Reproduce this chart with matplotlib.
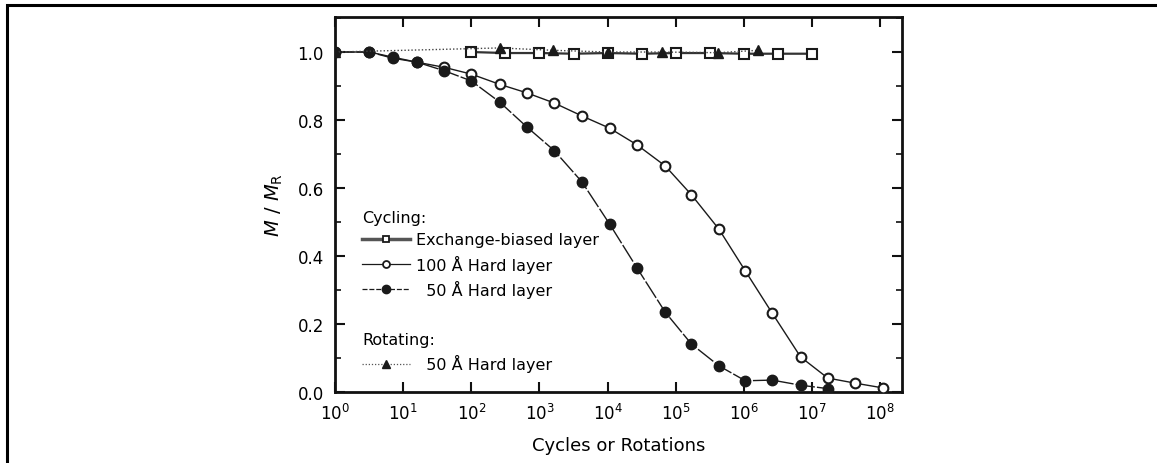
import numpy as np
import matplotlib
matplotlib.use("Agg")
import matplotlib.pyplot as plt
from matplotlib.lines import Line2D
from matplotlib.ticker import MultipleLocator, FormatStrFormatter, NullLocator

plt.rcParams['font.family'] = ['DejaVu Sans']
plt.rcParams['mathtext.fontset'] = 'dejavusans'

# ---- data ----
exch_x = [1e2, 3.16e2, 1e3, 3.16e3, 1e4, 3.16e4, 1e5, 3.16e5, 1e6, 3.16e6, 1e7]
exch_y = [1.0, 0.997, 0.997, 0.995, 0.997, 0.995, 0.997, 0.997, 0.995, 0.995, 0.995]

hard100_x = [1, 3.2, 7, 16, 40, 100, 260, 650, 1650, 4200, 1.07e4, 2.7e4, 7e4,
             1.7e5, 4.3e5, 1.05e6, 2.6e6, 6.8e6, 1.7e7, 4.3e7, 1.1e8]
hard100_y = [1.0, 1.0, 0.985, 0.97, 0.955, 0.935, 0.905, 0.88, 0.85, 0.812, 0.776,
             0.727, 0.665, 0.58, 0.479, 0.356, 0.232, 0.103, 0.041, 0.026, 0.012]

hard50_x = [1, 3.2, 7, 16, 40, 100, 260, 650, 1650, 4200, 1.07e4, 2.7e4, 7e4,
            1.7e5, 4.3e5, 1.05e6, 2.6e6, 6.8e6, 1.7e7]
hard50_y = [1.0, 1.0, 0.982, 0.97, 0.945, 0.915, 0.853, 0.78, 0.71, 0.618, 0.494,
            0.365, 0.235, 0.141, 0.077, 0.033, 0.035, 0.02, 0.01]

rot_x = [1, 260, 1600, 1e4, 6.2e4, 4.2e5, 1.6e6]
rot_y = [1.0, 1.012, 1.005, 1.0, 1.0, 0.998, 1.005]

xticks = [10.0**k for k in range(0, 9)]
yticks = [0.0, 0.2, 0.4, 0.6, 0.8, 1.0]

# ---- figure ----
W, H = 1157, 464
fig = plt.figure(figsize=(W / 100, H / 100), dpi=100)
ax = fig.add_axes([335 / W, 1 - 393 / H, (902 - 335) / W, (393 - 18) / H])

col = '#1a1a1a'
ax.plot(exch_x, exch_y, '-', color='#333333', lw=1.6, marker='s', ms=6.5,
        mfc='white', mec=col, mew=1.5, zorder=3)
ax.plot(hard100_x, hard100_y, '-', color=col, lw=1.0, marker='o', ms=7,
        mfc='white', mec=col, mew=1.5, zorder=4)
ax.plot(hard50_x, hard50_y, color=col, lw=1.0, ls=(0, (14, 1.5)), marker='o', ms=7.5,
        mfc=col, mec=col, zorder=5)
ax.plot(rot_x, rot_y, color='#444444', lw=1.0, ls=(0, (1, 1.5)), marker='^', ms=7,
        mfc=col, mec=col, zorder=6)

ax.set_xscale('log')
ax.set_xlim(1, 10 ** 8.32)
ax.set_ylim(0, 1.103)
ax.set_xticks(xticks)
ax.xaxis.set_minor_locator(NullLocator())
ax.set_yticks(yticks)
ax.yaxis.set_minor_locator(MultipleLocator(0.1))
ax.yaxis.set_major_formatter(FormatStrFormatter('%.1f'))

for s in ax.spines.values():
    s.set_linewidth(2.0)
    s.set_color('#111111')
ax.tick_params(which='both', direction='in', top=True, right=True, color='#111111')
ax.tick_params(which='major', length=7, width=1.5, labelsize=12, pad=8)
ax.tick_params(which='minor', length=4, width=1.2)

ax.set_xlabel('Cycles or Rotations', fontsize=13, labelpad=9)
ax.set_ylabel(r'$M\ /\ M_{\rm R}$', fontsize=14, labelpad=9)

# ---- legends ----
h1 = Line2D([], [], color='#555555', lw=2.5, marker='s', ms=5, mfc='white', mec=col, mew=1.3)
h2 = Line2D([], [], color=col, lw=0.9, marker='o', ms=5, mfc='white', mec=col, mew=1.3)
h3 = Line2D([], [], color=col, lw=0.9, ls=(0, (4, 1.5)), marker='o', ms=6, mfc=col, mec=col)
h4 = Line2D([], [], color='#555555', lw=0.9, ls=(0, (1, 1.5)), marker='^', ms=6, mfc=col, mec=col)

leg1 = ax.legend([h1, h2, h3],
                 ['Exchange-biased layer', '100 Å Hard layer', '  50 Å Hard layer'],
                 title='Cycling:', loc='upper left', bbox_to_anchor=(0.048, 0.485),
                 frameon=False, fontsize=11.5, title_fontsize=11.5, alignment='left',
                 handlelength=3.0, handletextpad=0.35, labelspacing=0.45,
                 borderaxespad=0, borderpad=0)
ax.add_artist(leg1)
leg2 = ax.legend([h4], ['  50 Å Hard layer'],
                 title='Rotating:', loc='upper left', bbox_to_anchor=(0.048, 0.16),
                 frameon=False, fontsize=11.5, title_fontsize=11.5, alignment='left',
                 handlelength=3.0, handletextpad=0.35, labelspacing=0.45,
                 borderaxespad=0, borderpad=0)

# ---- outer frame ----
fx = 7 / W
fy = 1 - 6 / H
fig.add_artist(Line2D([fx, fx, 1.0], [0.0, fy, fy], transform=fig.transFigure,
                      color='black', lw=2.2, solid_joinstyle='miter'))

fig.savefig('out.png', dpi=100)
